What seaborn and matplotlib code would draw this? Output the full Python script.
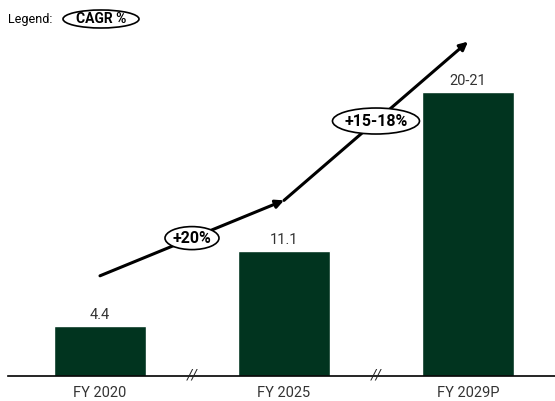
import matplotlib
matplotlib.use("Agg")
import matplotlib.pyplot as plt
from matplotlib.patches import Ellipse
import seaborn as sns
import pandas as pd

categories = ["FY 2020", "FY 2025", "FY 2029P"]
bar_heights = [4.4, 11.1, 25.2]
value_labels = ["4.4", "11.1", "20-21"]
cagr_labels = ["+20%", "+15-18%"]
arrow_y = [8.9, 15.6, 29.7]

sns.set_theme(style="white")
plt.rcParams["font.family"] = ["Roboto", "DejaVu Sans"]

W, H = 555, 401
fig = plt.figure(figsize=(W / 100, H / 100), dpi=100)
ax = fig.add_axes([8 / W, 25 / H, 547 / W, 376 / H])

df = pd.DataFrame({"cat": categories, "val": bar_heights})
sns.barplot(data=df, x="cat", y="val", color="#01341f", width=0.5, ax=ax,
            saturation=1)

ax.set_xlim(-0.5, 2.473)
ax.set_ylim(0, 33.4)
for s in ["top", "right", "left"]:
    ax.spines[s].set_visible(False)
ax.spines["bottom"].set_color("black")
ax.spines["bottom"].set_linewidth(1.2)
ax.set_yticks([])
ax.set_xlabel("")
ax.set_ylabel("")
ax.tick_params(axis="x", length=0, pad=7, labelsize=10.5, labelcolor="#333333")

for i, (h, lab) in enumerate(zip(bar_heights, value_labels)):
    ax.annotate(lab, (i, h), xytext=(0, 3), textcoords="offset points",
                ha="center", va="bottom", fontsize=10.5, color="#333333")

# break marks between bars
for xb in [0.5, 1.5]:
    ax.text(xb, 0, "//", ha="center", va="center", fontsize=10,
            color="#222222", style="italic")

# arrows
for i in range(2):
    ax.annotate("", xy=(i + 1, arrow_y[i + 1]), xytext=(i, arrow_y[i]),
                arrowprops=dict(arrowstyle="-|>", lw=2.2, color="black",
                                mutation_scale=12, shrinkA=0, shrinkB=0))

# CAGR ellipses at segment midpoints
ell_sizes = [(54, 23), (87, 26)]
for i, lab in enumerate(cagr_labels):
    xm = i + 0.5
    ym = (arrow_y[i] + arrow_y[i + 1]) / 2
    px, py = ax.transData.transform((xm, ym))
    fx, fy = fig.transFigure.inverted().transform((px, py))
    w, h = ell_sizes[i]
    e = Ellipse((fx, fy), w / W, h / H, transform=fig.transFigure,
                facecolor="white", edgecolor="black", lw=1.2, zorder=5)
    fig.patches.append(e)
    fig.text(fx, fy, lab, ha="center", va="center", fontsize=11.5,
             fontweight="bold", color="black", zorder=6)

# legend
fig.text(8 / W, 1 - 19 / H, "Legend:", ha="left", va="center", fontsize=9,
         color="black")
le = Ellipse((101 / W, 1 - 19 / H), 76 / W, 18 / H, transform=fig.transFigure,
             facecolor="white", edgecolor="black", lw=1.2)
fig.patches.append(le)
fig.text(101 / W, 1 - 19 / H, "CAGR %", ha="center", va="center",
         fontsize=10, fontweight="bold", color="black")

fig.savefig("out.png", dpi=100)
